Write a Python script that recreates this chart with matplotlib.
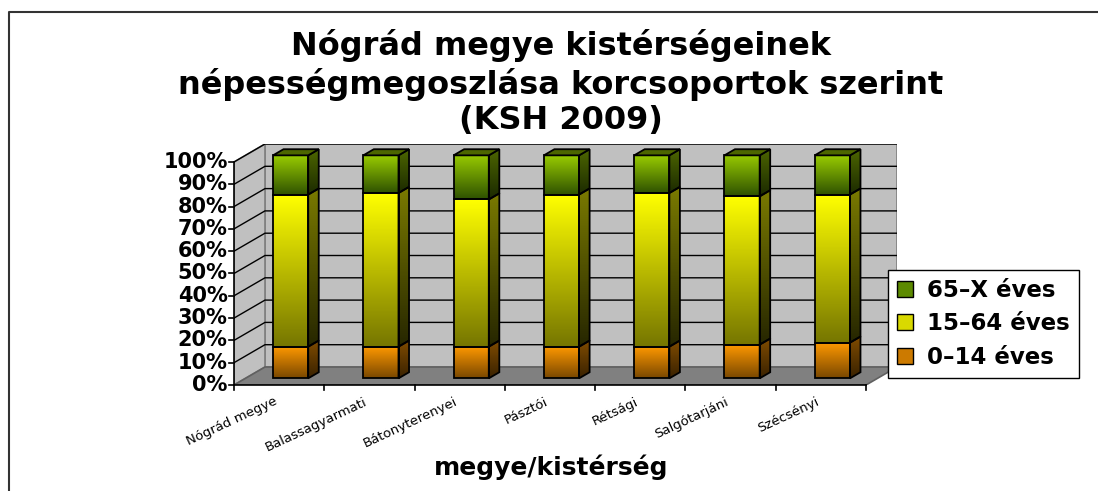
# Nógrád megye kistérségei - korcsoportok szerinti megoszlás (KSH 2009)
# 3D hatású halmozott oszlopdiagram

import matplotlib
matplotlib.use("Agg")
import matplotlib.pyplot as plt
import numpy as np
from matplotlib.colors import LinearSegmentedColormap
from matplotlib.patches import Polygon, Patch
from matplotlib.lines import Line2D

categories = ["Nógrád megye", "Balassagyarmati", "Bátonyterenyei", "Pásztói",
              "Rétsági", "Salgótarjáni", "Szécsényi"]
age_0_14 = [14.2, 14.2, 14.2, 14.2, 14.2, 15.1, 16.0]
age_15_64 = [68.2, 68.9, 66.0, 68.2, 68.9, 66.5, 66.4]
age_65_x = [17.6, 16.9, 19.8, 17.6, 16.9, 18.4, 17.6]
series_labels = ["0–14 éves", "15–64 éves", "65–X éves"]
yticks = list(range(0, 101, 10))

# térhatás paraméterei
DX = 0.343   # mélység x irányban (kategória egység)
DY = 8.07    # mélység y irányban (%)
BW = 0.39    # oszlop szélesség
F0, F1 = 0.37, 0.71  # oszlop eleje / hátulja a mélységben

front_cols = [("#7a4800", "#ff9900"), ("#767600", "#ffff00"), ("#2f5200", "#99cc00")]
side_cols = [("#3a2200", "#804c00"), ("#262600", "#7a7a00"), ("#1c2a00", "#4d6600")]
legend_cols = ["#cc7a00", "#d9d900", "#5c8a00"]


def gradient_fill(ax, patch, c_bottom, c_top, z):
    cm = LinearSegmentedColormap.from_list("g", [c_bottom, c_top])
    if isinstance(patch, Polygon):
        xy = patch.get_xy()
        x0, y0 = xy.min(axis=0)
        x1, y1 = xy.max(axis=0)
    else:
        x0, y0 = patch.get_x(), patch.get_y()
        x1, y1 = x0 + patch.get_width(), y0 + patch.get_height()
    im = ax.imshow(np.linspace(0, 1, 100).reshape(-1, 1), extent=(x0, x1, y0, y1),
                   origin="lower", cmap=cm, aspect="auto", zorder=z,
                   interpolation="bilinear")
    im.set_clip_path(patch)


fig = plt.figure(figsize=(10.98, 4.91), dpi=100)
ax = fig.add_axes([234 / 1098, (491 - 385) / 491, (897 - 234) / 1098, (385 - 144) / 491])
ax.set_axis_off()

n = len(categories)
x0, x1 = -0.5, n - 0.5

# fal, padló
ax.add_patch(Polygon([(x0 + DX, DY), (x1 + DX, DY), (x1 + DX, 100 + DY), (x0 + DX, 100 + DY)],
                     facecolor="#c0c0c0", edgecolor="#808080", lw=1.2, zorder=1))
ax.add_patch(Polygon([(x0, 0), (x0 + DX, DY), (x0 + DX, 100 + DY), (x0, 100)],
                     facecolor="#c0c0c0", edgecolor="#808080", lw=1.2, zorder=1))
ax.add_patch(Polygon([(x0, 0), (x1, 0), (x1 + DX, DY), (x0 + DX, DY)],
                     facecolor="#808080", edgecolor="#606060", lw=1.2, zorder=1))
for y in yticks[1:]:
    ax.plot([x0, x0 + DX, x1 + DX], [y, y + DY, y + DY], color="black", lw=1, zorder=2)

# tengelyek
ax.plot([x0, x0], [0, 100], color="black", lw=1.2, zorder=3, clip_on=False)
ax.plot([x0, x1], [0, 0], color="black", lw=1.2, zorder=3, clip_on=False)
for y in yticks:
    ax.plot([x0 - 0.06, x0], [y, y], color="black", lw=1.2, clip_on=False)
    ax.text(x0 - 0.07, y, f"{y}%", ha="right", va="center", fontsize=15,
            fontweight="bold")
for i in range(n + 1):
    ax.plot([x0 + i, x0 + i], [0, -2.3], color="black", lw=1.2, clip_on=False)
for i, cat in enumerate(categories):
    ax.text(i - 0.06, -4.5, cat, rotation=25, ha="right", va="top",
            rotation_mode="anchor", fontsize=9.5)

# oszlopok
xs = np.arange(n)
bottoms = np.zeros(n)
d = F1 - F0
for vals, fc, sc in zip([age_0_14, age_15_64, age_65_x], front_cols, side_cols):
    vals = np.array(vals)
    rects = ax.bar(xs + F0 * DX, vals, width=BW, bottom=bottoms + F0 * DY,
                   facecolor="none", edgecolor="black", lw=1.3, zorder=6)
    for r, v in zip(rects, vals):
        gradient_fill(ax, r, fc[0], fc[1], 5)
        xr = r.get_x() + BW
        yb = r.get_y()
        side = Polygon([(xr, yb), (xr + d * DX, yb + d * DY),
                        (xr + d * DX, yb + v + d * DY), (xr, yb + v)],
                       facecolor="none", edgecolor="black", lw=1.3, zorder=6)
        ax.add_patch(side)
        gradient_fill(ax, side, sc[0], sc[1], 5)
    bottoms += vals

for r, top in zip(rects, bottoms):
    xl = r.get_x()
    yt = top + F0 * DY
    ax.add_patch(Polygon([(xl, yt), (xl + BW, yt), (xl + BW + d * DX, yt + d * DY),
                          (xl + d * DX, yt + d * DY)],
                         facecolor="#4d6600", edgecolor="black", lw=1.3, zorder=6))

ax.set_xlim(x0, x1 + DX)
ax.set_ylim(0, 100 + DY)

# cím, tengelyfelirat
fig.text(561 / 1098, 1 - 83 / 491,
         "Nógrád megye kistérségeinek\nnépességmegoszlása korcsoportok szerint\n(KSH 2009)",
         ha="center", va="center", fontsize=23, fontweight="bold", linespacing=1.2)
fig.text(551 / 1098, 1 - 467 / 491, "megye/kistérség", ha="center", va="center",
         fontsize=18, fontweight="bold")

# jelmagyarázat
handles = [Patch(facecolor=c, edgecolor="black", lw=1) for c in legend_cols]
leg = fig.legend(handles[::-1], series_labels[::-1], loc="upper left",
                 bbox_to_anchor=(888 / 1098, 1 - 270 / 491), frameon=True,
                 fancybox=False, edgecolor="black", framealpha=1,
                 prop={"weight": "bold", "size": 16.5}, handlelength=0.7,
                 handleheight=0.7, borderaxespad=0, labelspacing=0.45,
                 handletextpad=0.6, borderpad=0.4)
leg.get_frame().set_linewidth(1)

# keret
fig.add_artist(Line2D([8.5 / 1098, 8.5 / 1098, 1.0], [0, 1 - 12 / 491, 1 - 12 / 491],
                      transform=fig.transFigure, color="#333333", lw=1.5))

fig.savefig("out.png", dpi=100)
